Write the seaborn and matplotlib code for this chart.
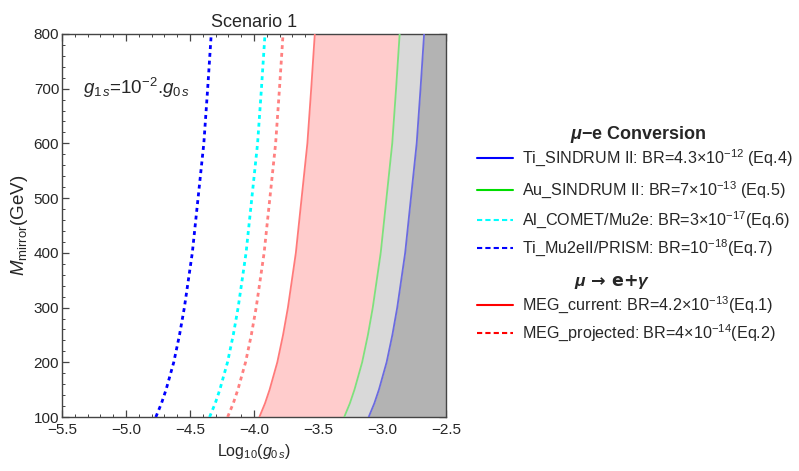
import matplotlib
matplotlib.use("Agg")
import matplotlib.pyplot as plt
from matplotlib.lines import Line2D
from matplotlib.ticker import MultipleLocator
import numpy as np
import pandas as pd
import seaborn as sns

sns.set_style("white")
plt.rcParams['font.family'] = ['Liberation Sans', 'DejaVu Sans']
plt.rcParams['mathtext.fontset'] = 'custom'
plt.rcParams['mathtext.rm'] = 'Liberation Sans'
plt.rcParams['mathtext.it'] = 'Liberation Sans:italic'
plt.rcParams['mathtext.bf'] = 'Liberation Sans:bold'
plt.rcParams['mathtext.bfit'] = 'Liberation Sans:italic:bold'

# Mirror mass grid (GeV) and the log10(g0s) limit for each experiment
m_mirror = [100, 125, 150, 200, 250, 300, 400, 500, 600, 700, 800]
ti_sindrum = [-3.104, -3.060, -3.024, -2.964, -2.919, -2.881, -2.819, -2.774, -2.729, -2.699, -2.671]
au_sindrum = [-3.295, -3.251, -3.215, -3.155, -3.110, -3.072, -3.010, -2.965, -2.920, -2.890, -2.862]
meg_current = [-3.958, -3.914, -3.878, -3.818, -3.773, -3.735, -3.673, -3.628, -3.583, -3.553, -3.525]
meg_projected = [-4.206, -4.162, -4.126, -4.066, -4.021, -3.983, -3.921, -3.876, -3.831, -3.801, -3.773]
al_comet = [-4.347, -4.303, -4.267, -4.207, -4.162, -4.124, -4.062, -4.017, -3.972, -3.942, -3.914]
ti_prism = [-4.767, -4.723, -4.687, -4.627, -4.582, -4.544, -4.482, -4.437, -4.392, -4.362, -4.334]

x_range = (-5.5, -2.5)
y_range = (100, 800)

fig = plt.figure(figsize=(7.99, 4.71), dpi=100)
ax = fig.add_axes([0.0776, 0.1146, 0.4806, 0.8134])

M = np.array(m_mirror)
# excluded regions
ax.fill_betweenx(M, meg_current, au_sindrum, color='#FFCCCC', lw=0, zorder=1)
ax.fill_betweenx(M, au_sindrum, ti_sindrum, color='#D9D9D9', lw=0, zorder=1)
ax.fill_betweenx(M, ti_sindrum, x_range[1], color='#B3B3B3', lw=0, zorder=1)

dots = (0, (1.4, 1.4))
curves = [
    (ti_sindrum, '#6B6BE0', '-', 1.3),
    (au_sindrum, '#7EE07E', '-', 1.3),
    (meg_current, '#FF7A7A', '-', 1.3),
    (meg_projected, '#FF8080', dots, 2.0),
    (al_comet, '#00FFFF', dots, 2.0),
    (ti_prism, '#0000FF', dots, 2.0),
]
for vals, col, ls, lw in curves:
    df = pd.DataFrame({'g': vals, 'M': m_mirror})
    sns.lineplot(data=df, x='g', y='M', sort=False, estimator=None,
                 color=col, lw=lw, linestyle=ls, ax=ax, zorder=3)

ax.set_xlim(*x_range)
ax.set_ylim(*y_range)
ax.xaxis.set_major_locator(MultipleLocator(0.5))
ax.xaxis.set_minor_locator(MultipleLocator(0.1))
ax.yaxis.set_major_locator(MultipleLocator(100))
ax.yaxis.set_minor_locator(MultipleLocator(20))
ax.tick_params(which='both', direction='in', top=True, right=True,
               bottom=True, left=True, color='#444444')
ax.tick_params(which='major', length=5, width=0.9, labelsize=11)
ax.tick_params(axis='x', which='major', pad=4)
ax.tick_params(axis='y', which='major', pad=2)
ax.tick_params(which='minor', length=2.5, width=0.7)
for s in ax.spines.values():
    s.set_color('#444444')
    s.set_linewidth(1.0)

ax.set_title('Scenario 1', fontsize=13, pad=5)
ax.set_xlabel(r'Log$_{10}$($g_{0\,s}$)', fontsize=11.5, labelpad=4)
ax.set_ylabel(r'$M_{\mathrm{mirror}}$(GeV)', fontsize=13.5, labelpad=3)
ax.text(-5.336, 702, r'$g_{1\,s}$=10$^{-2}$.$g_{0\,s}$', fontsize=13.5, va='center', ha='left')

# legend block on the right
tf = fig.transFigure
W, H = 799, 471

def px(x, y):
    return x / W, 1 - y / H

def entry(y, color, ls, label):
    x0, yy = px(477, y)
    x1, _ = px(513, y)
    fig.add_artist(Line2D([x0, x1], [yy, yy], transform=tf, color=color,
                          lw=1.5, linestyle=ls))
    fig.text(px(522, y)[0], yy, label, fontsize=11.6, va='center', ha='left')

fig.text(*px(638, 135), r'$\mathbfit{\mu}$$\mathbf{-}$e Conversion', fontsize=13,
         fontweight='bold', ha='center', va='center')
entry(158, '#0000FF', '-', r'Ti_SINDRUM II: BR=4.3$\times$10$^{-12}$ (Eq.4)')
entry(190, '#00DD00', '-', r'Au_SINDRUM II: BR=7$\times$10$^{-13}$ (Eq.5)')
entry(220, '#00FFFF', (0, (2.5, 1.5)), r'Al_COMET/Mu2e: BR=3$\times$10$^{-17}$(Eq.6)')
entry(248, '#0000FF', (0, (2.5, 1.5)), r'Ti_Mu2eII/PRISM: BR=10$^{-18}$(Eq.7)')
fig.text(*px(612, 282), r'$\mathbfit{\mu}$ → e+$\mathbfit{\gamma}$', fontsize=12.5,
         fontweight='bold', ha='center', va='center',
         family=['DejaVu Sans'])
entry(305, '#FF0000', '-', r'MEG_current: BR=4.2$\times$10$^{-13}$(Eq.1)')
entry(333, '#FF0000', (0, (2.5, 1.5)), r'MEG_projected: BR=4$\times$10$^{-14}$(Eq.2)')

fig.savefig('out.png', dpi=100)
